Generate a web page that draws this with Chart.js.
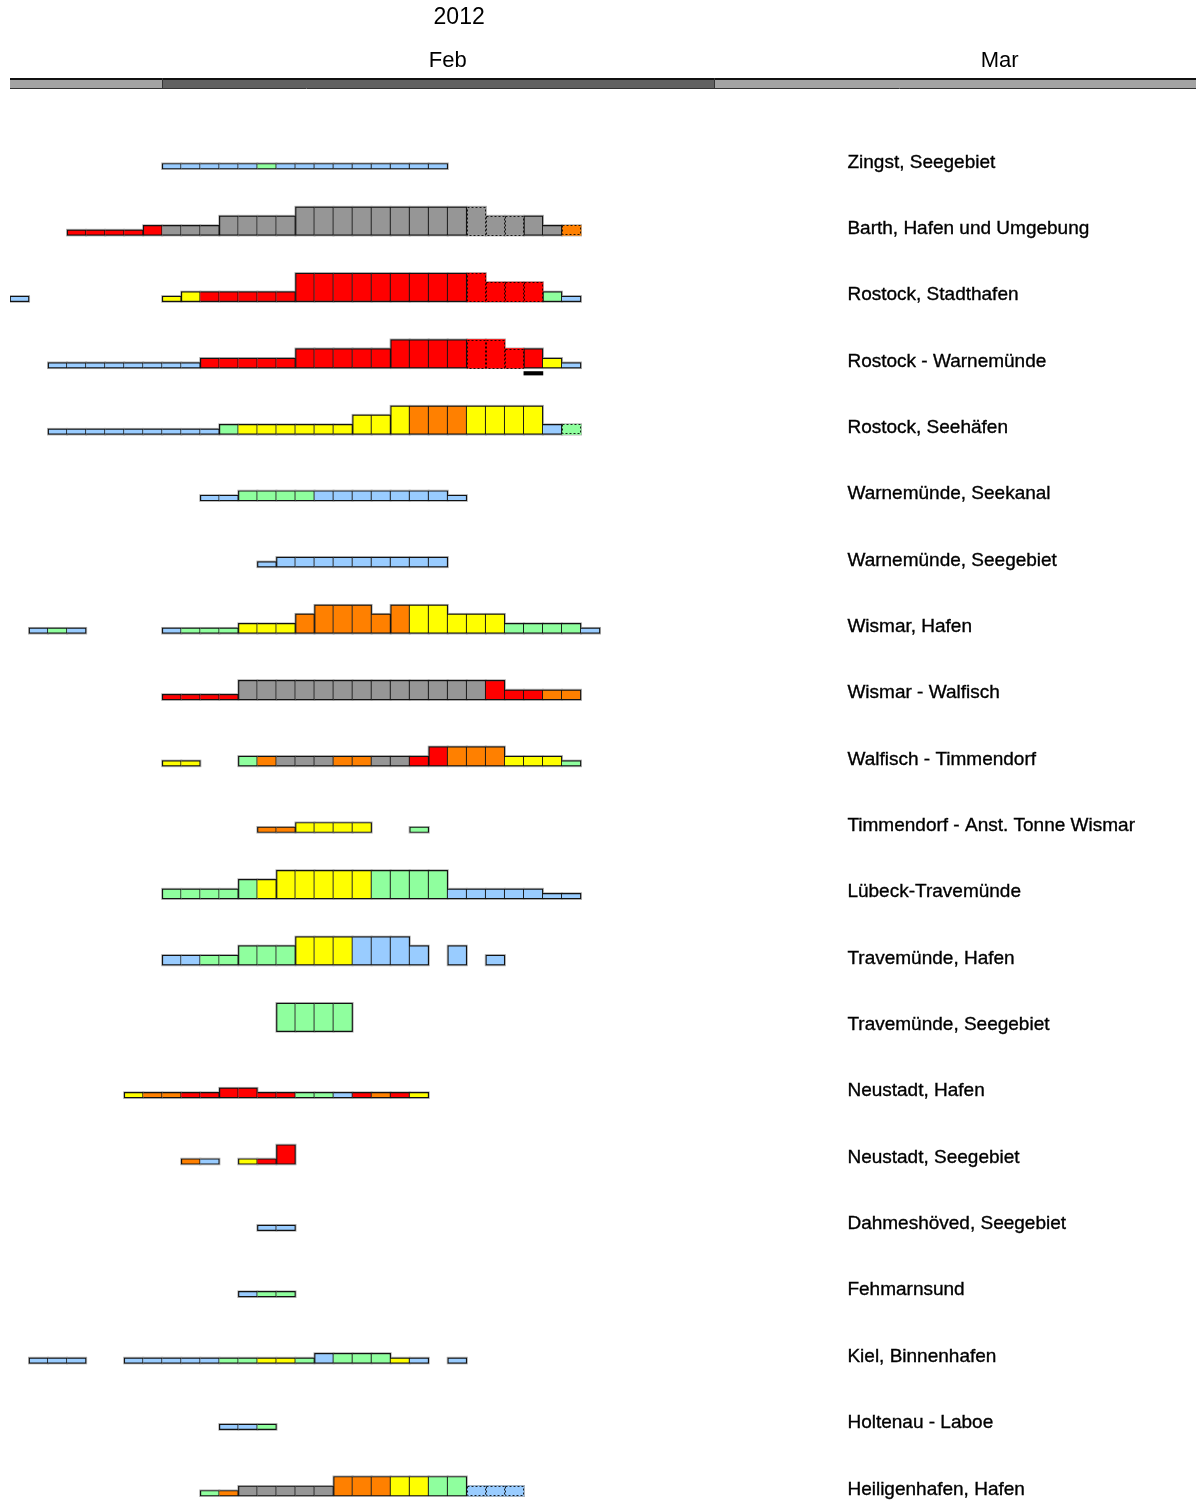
<!DOCTYPE html>
<html>
<head>
<meta charset="utf-8">
<title>Eisbericht 2012</title>
<script src="https://cdn.jsdelivr.net/npm/chart.js@4.4.1/dist/chart.umd.min.js"></script>
<style>
    html, body { margin: 0; padding: 0; background: #fff; overflow: hidden; }
    #wrap { position: relative; width: 1196px; height: 1502px; }
</style>
</head>
<body>
<div id="wrap"><canvas id="iceChart"></canvas></div>
<script>
// 観測地点 (上から順)
const locations = [
    'Zingst, Seegebiet',
    'Barth, Hafen und Umgebung',
    'Rostock, Stadthafen',
    'Rostock - Warnemünde',
    'Rostock, Seehäfen',
    'Warnemünde, Seekanal',
    'Warnemünde, Seegebiet',
    'Wismar, Hafen',
    'Wismar - Walfisch',
    'Walfisch - Timmendorf',
    'Timmendorf - Anst. Tonne Wismar',
    'Lübeck-Travemünde',
    'Travemünde, Hafen',
    'Travemünde, Seegebiet',
    'Neustadt, Hafen',
    'Neustadt, Seegebiet',
    'Dahmeshöved, Seegebiet',
    'Fehmarnsund',
    'Kiel, Binnenhafen',
    'Holtenau - Laboe',
    'Heiligenhafen, Hafen'
];

// 1文字 = 1日 (0 = 24. Jan). b=blau g=grün y=gelb o=orange r=rot x=grau
const iceColour = [
    '........' + 'bbbbb' + 'g' + 'bbbbbbbbb',
    '...' + 'rrrrr' + 'xxxxxxxxxxxxxxxxxxxxx' + 'o',
    'b' + '.......' + 'yy' + 'rrrrrrrrrrrrrrrrrr' + 'gb',
    '..' + 'bbbbbbbb' + 'rrrrrrrrrrrrrrrrrr' + 'yb',
    '..' + 'bbbbbbbbb' + 'g' + 'yyyyyyyyy' + 'ooo' + 'yyyy' + 'bg',
    '..........' + 'bb' + 'gggg' + 'bbbbbbbb',
    '.............' + 'bbbbbbbbbb',
    '.' + 'bgb' + '....' + 'b' + 'ggg' + 'yyy' + 'oooooo' + 'yyyyy' + 'gggg' + 'b',
    '........' + 'rrrr' + 'xxxxxxxxxxxxx' + 'rrr' + 'oo',
    '........' + 'yy' + '..' + 'g' + 'o' + 'xxx' + 'oo' + 'xx' + 'rr' + 'ooo' + 'yyy' + 'g',
    '.............' + 'oo' + 'yyyy' + '..' + 'g',
    '........' + 'ggggg' + 'yyyyyy' + 'gggg' + 'bbbbbbb',
    '........' + 'bb' + 'ggggg' + 'yyy' + 'bbbb' + '.b.b',
    '..............' + 'gggg',
    '......' + 'yoo' + 'rrrrrr' + 'ggbrory',
    '.........' + 'ob.' + 'yrr',
    '.............' + 'bb',
    '............' + 'bgg',
    '.' + 'bbb' + '..' + 'bbbbb' + 'gg' + 'yy' + 'g' + 'b' + 'ggg' + 'y' + 'b' + '.' + 'b',
    '...........' + 'bbg',
    '..........' + 'go' + 'xxxxx' + 'ooo' + 'yy' + 'gg' + 'bbb'
];

// 氷の厚さクラス (0 = なし, 1..4)
const iceClass = [
    '00000000' + '111111111111111',
    '000' + '1111' + '2222' + '3333' + '4444444444' + '333' + '22',
    '1' + '0000000' + '1' + '222222' + '4444444444' + '333' + '21',
    '00' + '11111111' + '22222' + '33333' + '444444' + '33' + '21',
    '00' + '111111111' + '2222222' + '33' + '44444444' + '22',
    '0000000000' + '11' + '22222222222' + '1',
    '0000000000000' + '1' + '222222222',
    '0' + '111' + '0000' + '1' + '111' + '222' + '3' + '444' + '3' + '4' + '44' + '333' + '2222' + '1',
    '00000000' + '1111' + '33333333333333' + '2222',
    '00000000' + '11' + '00' + '2222222222' + '3333' + '222' + '1',
    '0000000000000' + '11' + '2222' + '00' + '1',
    '00000000' + '2222' + '33' + '444444444' + '22222' + '11',
    '00000000' + '2222' + '333' + '444444' + '3' + '0302',
    '00000000000000' + '4444',
    '000000' + '11111' + '22' + '111111111',
    '000000000' + '110' + '113',
    '0000000000000' + '11',
    '000000000000' + '111',
    '0' + '111' + '00' + '1111111111' + '2222' + '11' + '0' + '1',
    '00000000000' + '111',
    '0000000000' + '11' + '22222' + '3333333' + '222'
];

// 予報日 (点線で描く)
const forecastDays = [
    [], [24, 25, 26, 29], [24, 25, 26, 27], [24, 25, 26], [29],
    [], [], [], [], [], [], [], [], [], [], [], [], [], [], [],
    [24, 25, 26]
];

// 黒いマーク (Rostock - Warnemünde)
const markRows = [3];
const markDays = [27];

const monthLabels = ['Feb', 'Mar'];
const monthStart = [8, 37];
const yearLabel = '2012';
const dayCount = 62;

const iceColours = {
    b: '#99ccff',
    g: '#8fff9e',
    y: '#ffff00',
    o: '#ff8000',
    r: '#ff0000',
    x: '#969696'
};
const classHeight = [0, 5.5, 10, 19.5, 28.5];
const rowPitch = 66.35;

function buildCells() {
    const solid = [];
    const forecast = [];
    locations.forEach((name, row) => {
        const base = row * rowPitch;
        const colours = iceColour[row];
        for (let d = 0; d < colours.length; d++) {
            const c = colours[d];
            if (!iceColours[c]) continue;
            const h = classHeight[+iceClass[row][d]];
            const prev = colours[d - 1];
            const prevH = iceColours[prev] ? classHeight[+iceClass[row][d - 1]] : 0;
            const prevForecast = forecastDays[row].includes(d - 1);
            const cell = {
                x: d + 0.5,
                y: [base - h, base],
                colour: iceColours[c],
                skipLeft: prevH >= h && !prevForecast
            };
            if (forecastDays[row].includes(d)) {
                forecast.push(cell);
            } else {
                solid.push(cell);
            }
        }
    });
    return { solid, forecast };
}

const cells = buildCells();
const markCells = markRows.map((row, i) => ({
    x: markDays[i] + 0.5,
    y: [row * rowPitch + 3.5, row * rowPitch + 7]
}));

// 見出し・帯・地点名・点線枠
const iceChartDecor = {
    id: 'iceChartDecor',
    beforeDatasetsDraw(chart) {
        const ctx = chart.ctx;
        const xs = chart.scales.x;
        const left = xs.getPixelForValue(0);
        const feb = Math.round(xs.getPixelForValue(monthStart[0]));
        const mar = Math.round(xs.getPixelForValue(monthStart[1]));
        const right = chart.width;
        ctx.save();
        ctx.fillStyle = '#a3a3a3';
        ctx.fillRect(left, 78, right - left, 10);
        ctx.fillStyle = '#616161';
        ctx.fillRect(feb, 78, mar - feb, 10);
        ctx.strokeStyle = '#111';
        ctx.lineWidth = 2;
        ctx.beginPath();
        ctx.moveTo(left, 79);
        ctx.lineTo(right, 79);
        ctx.stroke();
        ctx.lineWidth = 1;
        ctx.strokeStyle = '#333';
        ctx.beginPath();
        ctx.moveTo(left, 88.5);
        ctx.lineTo(right, 88.5);
        ctx.moveTo(feb + 0.5, 78);
        ctx.lineTo(feb + 0.5, 88);
        ctx.moveTo(mar + 0.5, 78);
        ctx.lineTo(mar + 0.5, 88);
        ctx.stroke();

        ctx.fillStyle = '#000';
        ctx.textAlign = 'center';
        ctx.textBaseline = 'middle';
        ctx.font = '23px "Liberation Sans", Arial, sans-serif';
        ctx.fillText(yearLabel, xs.getPixelForValue(23.6), 18);
        ctx.font = '22px "Liberation Sans", Arial, sans-serif';
        ctx.fillText(monthLabels[0], xs.getPixelForValue(23), 61);
        ctx.fillText(monthLabels[1], xs.getPixelForValue(52), 61);

        ctx.textAlign = 'left';
        ctx.textBaseline = 'alphabetic';
        ctx.font = '19px "Liberation Sans", Arial, sans-serif';
        ctx.strokeStyle = '#000';
        ctx.lineWidth = 0.35;
        const labelX = xs.getPixelForValue(44);
        locations.forEach((name, row) => {
            const y = chart.scales.y.getPixelForValue(row * rowPitch) - 1.5;
            ctx.fillText(name, labelX, y);
            ctx.strokeText(name, labelX, y);
        });
        ctx.restore();
    },
    afterDatasetsDraw(chart) {
        const ctx = chart.ctx;
        const meta = chart.getDatasetMeta(1);
        ctx.save();
        ctx.strokeStyle = 'rgba(0, 0, 0, 0.85)';
        ctx.lineWidth = 1;
        ctx.setLineDash([2, 2]);
        meta.data.forEach(bar => {
            const l = bar.x - bar.width / 2;
            const top = Math.min(bar.y, bar.base);
            const h = Math.abs(bar.base - bar.y);
            ctx.strokeRect(Math.round(l) + 0.5, Math.round(top) + 0.5, Math.round(bar.width) - 1, Math.round(h) - 1);
        });
        ctx.restore();
    }
};

const barCommon = {
    grouped: false,
    barPercentage: 1,
    categoryPercentage: 1
};

new Chart(document.getElementById('iceChart'), {
    type: 'bar',
    data: {
        datasets: [
            {
                ...barCommon,
                label: 'halo',
                data: cells.solid.concat(cells.forecast),
                backgroundColor: '#a8a8a8',
                borderWidth: 0,
                inflateAmount: 1,
                order: 3
            },
            {
                ...barCommon,
                label: 'Vorhersage',
                data: cells.forecast,
                backgroundColor: ctx => ctx.raw ? ctx.raw.colour : 'transparent',
                borderWidth: 0,
                order: 2
            },
            {
                ...barCommon,
                label: 'Eis',
                data: cells.solid,
                backgroundColor: ctx => ctx.raw ? ctx.raw.colour : 'transparent',
                borderColor: '#121212',
                borderWidth: 1.2,
                borderSkipped: ctx => (ctx.raw && ctx.raw.skipLeft) ? 'left' : false,
                order: 1
            },
            {
                ...barCommon,
                label: 'Marke',
                data: markCells,
                backgroundColor: '#000',
                borderWidth: 0,
                order: 0
            }
        ]
    },
    options: {
        responsive: true,
        maintainAspectRatio: false,
        animation: false,
        devicePixelRatio: 1,
        events: [],
        layout: { padding: { left: 10, right: 6, top: 0, bottom: 0 } },
        plugins: {
            legend: { display: false },
            tooltip: { enabled: false }
        },
        scales: {
            x: {
                type: 'linear',
                min: 0,
                max: dayCount,
                offset: false,
                display: false,
                ticks: { stepSize: 1 }
            },
            y: {
                type: 'linear',
                min: -169,
                max: 1333,
                reverse: true,
                display: false
            }
        }
    },
    plugins: [iceChartDecor]
});
</script>
</body>
</html>
